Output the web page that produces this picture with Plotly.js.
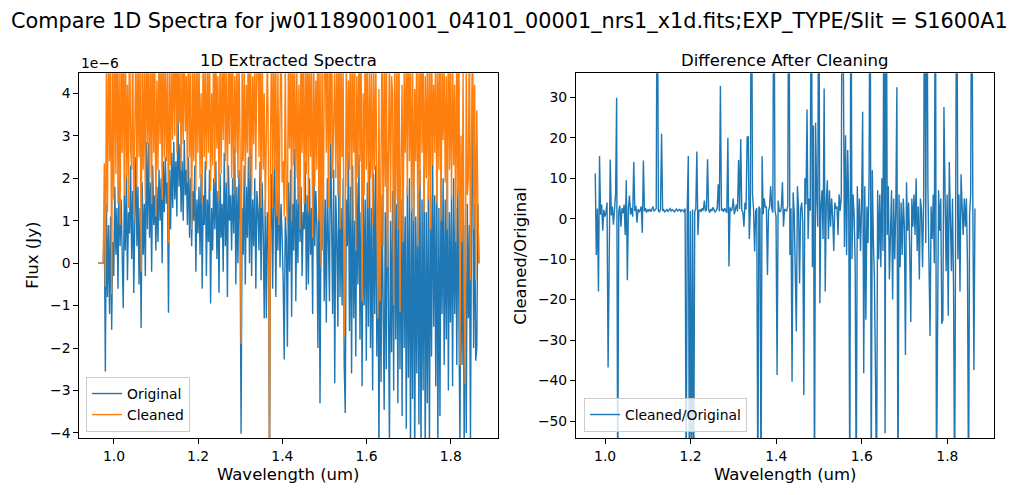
<!DOCTYPE html>
<html>
<head>
<meta charset="utf-8">
<script src="https://cdn.plot.ly/plotly-3.0.1.min.js"></script>
<style>html,body{margin:0;padding:0;background:#fff;}#chart{width:1019px;height:495px;}</style>
</head>
<body>
<div id="chart"></div>
<script>
// Wavelength grid (um)
const wavelength = [
0.962,0.9645,0.967,0.9695,0.972,0.9745,0.977,0.9795,
0.982,0.9845,0.987,0.9895,0.992,0.9945,0.997,0.9995,
1.002,1.0045,1.007,1.0095,1.012,1.0145,1.017,1.0195,
1.022,1.0245,1.027,1.0295,1.032,1.0345,1.037,1.0395,
1.042,1.0445,1.047,1.0495,1.052,1.0545,1.057,1.0595,
1.062,1.0645,1.067,1.0695,1.072,1.0745,1.077,1.0795,
1.082,1.0845,1.087,1.0895,1.092,1.0945,1.097,1.0995,
1.102,1.1045,1.107,1.1095,1.112,1.1145,1.117,1.1195,
1.122,1.1245,1.127,1.1295,1.132,1.1345,1.137,1.1395,
1.142,1.1445,1.147,1.1495,1.152,1.1545,1.157,1.1595,
1.162,1.1645,1.167,1.1695,1.172,1.1745,1.177,1.1795,
1.182,1.1845,1.187,1.1895,1.192,1.1945,1.197,1.1995,
1.202,1.2045,1.207,1.2095,1.212,1.2145,1.217,1.2195,
1.222,1.2245,1.227,1.2295,1.232,1.2345,1.237,1.2395,
1.242,1.2445,1.247,1.2495,1.252,1.2545,1.257,1.2595,
1.262,1.2645,1.267,1.2695,1.272,1.2745,1.277,1.2795,
1.282,1.2845,1.287,1.2895,1.292,1.2945,1.297,1.2995,
1.302,1.3045,1.307,1.3095,1.312,1.3145,1.317,1.3195,
1.322,1.3245,1.327,1.3295,1.332,1.3345,1.337,1.3395,
1.342,1.3445,1.347,1.3495,1.352,1.3545,1.357,1.3595,
1.362,1.3645,1.367,1.3695,1.372,1.3745,1.377,1.3795,
1.382,1.3845,1.387,1.3895,1.392,1.3945,1.397,1.3995,
1.402,1.4045,1.407,1.4095,1.412,1.4145,1.417,1.4195,
1.422,1.4245,1.427,1.4295,1.432,1.4345,1.437,1.4395,
1.442,1.4445,1.447,1.4495,1.452,1.4545,1.457,1.4595,
1.462,1.4645,1.467,1.4695,1.472,1.4745,1.477,1.4795,
1.482,1.4845,1.487,1.4895,1.492,1.4945,1.497,1.4995,
1.502,1.5045,1.507,1.5095,1.512,1.5145,1.517,1.5195,
1.522,1.5245,1.527,1.5295,1.532,1.5345,1.537,1.5395,
1.542,1.5445,1.547,1.5495,1.552,1.5545,1.557,1.5595,
1.562,1.5645,1.567,1.5695,1.572,1.5745,1.577,1.5795,
1.582,1.5845,1.587,1.5895,1.592,1.5945,1.597,1.5995,
1.602,1.6045,1.607,1.6095,1.612,1.6145,1.617,1.6195,
1.622,1.6245,1.627,1.6295,1.632,1.6345,1.637,1.6395,
1.642,1.6445,1.647,1.6495,1.652,1.6545,1.657,1.6595,
1.662,1.6645,1.667,1.6695,1.672,1.6745,1.677,1.6795,
1.682,1.6845,1.687,1.6895,1.692,1.6945,1.697,1.6995,
1.702,1.7045,1.707,1.7095,1.712,1.7145,1.717,1.7195,
1.722,1.7245,1.727,1.7295,1.732,1.7345,1.737,1.7395,
1.742,1.7445,1.747,1.7495,1.752,1.7545,1.757,1.7595,
1.762,1.7645,1.767,1.7695,1.772,1.7745,1.777,1.7795,
1.782,1.7845,1.787,1.7895,1.792,1.7945,1.797,1.7995,
1.802,1.8045,1.807,1.8095,1.812,1.8145,1.817,1.8195,
1.822,1.8245,1.827,1.8295,1.832,1.8345,1.837,1.8395,
1.842,1.8445,1.847,1.8495,1.852,1.8545,1.857,1.8595,
1.862,1.8645,1.867];

// Original flux, in units of 1e-6 Jy
const originalFlux = [
0,0,0,0,0,0,1.0,-2.55,
1.4,-0.8,0.9,-1.2,1.1,-1.57,0.5,-0.3,
1.8,0.2,1.3,-0.6,2.0,0.4,1.5,-0.2,
-1.06,1.6,0.3,2.1,-0.4,1.2,0.7,2.3,
0.1,1.7,-0.7,1.0,2.5,0.4,1.8,-0.5,
1.3,-1.53,1.9,0.2,1.4,-0.3,2.85,0.8,
2.83,0.6,1.9,-0.2,2.3,0.9,1.6,0.3,
1.8,0.5,2.2,1.0,2.0,0.0,2.4,1.2,
2.5,1.4,1.9,-1.17,2.2,0.8,2.6,1.3,
2.86,1.5,2.4,1.1,3.6,1.8,2.8,1.2,
2.4,1.0,2.9,1.6,2.2,0.9,2.5,0.6,
2.0,0.4,1.7,1.0,2.3,-0.2,1.5,0.7,
1.8,0.2,2.1,-0.6,1.6,0.9,2.4,-0.3,
1.5,0.5,2.2,-0.95,1.3,0.3,2.0,0.8,
2.4,0.1,1.7,-0.7,2.1,0.6,1.4,-0.2,
2.6,0.4,1.9,-0.8,2.3,1.0,1.6,0.3,
2.0,0.7,2.7,-0.5,1.8,0.0,2.2,0.9,
-4.02,1.3,0.2,2.3,-0.5,1.8,0.6,2.5,
0.0,2.7,-0.3,1.5,0.4,2.0,-0.6,1.7,
1.2,0.3,2.4,-0.4,1.9,0.8,-1.3,1.5,
-1.3,1.2,0.6,-5.0,0.8,2.1,-0.6,1.6,
2.4,-0.8,1.7,0.3,2.2,-0.1,1.4,0.6,
-0.4,-2.27,1.1,0.6,-1.97,1.9,-0.2,2.2,
-1.26,1.4,0.3,2.7,-0.9,1.5,0.0,2.1,
0.5,1.8,-0.3,1.2,0.8,2.4,-0.63,1.6,
-0.5,2.0,0.2,1.3,-1.2,2.6,0.4,1.7,
0.9,-2.0,2.2,-3.3,1.4,0.3,2.5,-0.9,
1.5,-1.4,2.0,0.5,-0.9,3.37,1.1,-1.2,
2.2,-2.83,1.6,0.6,-1.5,2.4,-0.8,1.3,
-1.0,2.0,-2.4,-3.53,1.5,0.4,2.6,-1.6,
1.8,-2.6,2.3,-1.3,1.0,-2.2,1.9,-0.5,
2.55,-1.8,1.2,-2.9,2.0,-1.0,1.5,-2.3,
1.9,-1.5,2.4,-2.0,1.3,-3.0,2.1,-1.2,
2.3,-2.2,1.4,-4.6,0.8,-2.8,1.6,-2.0,
-3.46,1.2,-2.5,2.6,-1.5,-4.3,1.0,-2.1,
1.7,-3.0,2.9,-1.8,1.4,-3.3,2.2,-2.5,
1.5,-3.6,2.4,-2.0,1.1,-3.9,1.8,-2.7,
2.0,-4.6,1.3,-3.2,3.0,-4.8,1.1,-2.6,
1.7,-3.8,2.2,-4.5,1.5,-3.0,2.3,-4.7,
1.2,-3.3,1.9,-4.5,1.6,-2.2,2.7,-1.5,
1.6,-2.9,2.2,-4.4,1.3,-3.6,2.0,-1.2,
2.0,-2.4,1.5,-1.8,2.4,-3.0,1.2,-1.4,
1.6,-2.9,2.0,-1.2,1.3,-2.4,1.8,-1.8,
-4.3,1.2,-2.4,1.8,-4.5,0.9,-4.0,1.4,
-1.3,0.9,-4.3,1.5,4.15,-2.0,1.4,-2.3,
-2.0,1.4,0];

// Cleaned flux, in units of 1e-6 Jy
const cleanedFlux = [
0,0,0,0,0,0,2.35,-0.55,
4.6,1.2,5.3,2.4,5.0,-0.73,4.8,1.5,
5.9,2.1,6.0,1.4,4.8,0.9,5.4,2.6,
5.4,1.6,5.5,2.0,4.2,1.3,6.0,2.7,
2.2,5.5,1.0,4.6,5.2,1.8,5.0,2.5,
5.0,-0.2,5.0,2.2,4.7,1.5,6.0,2.8,
4.6,2.0,5.5,1.4,5.5,2.6,4.8,1.1,
4.3,2.2,5.0,2.8,5.2,1.5,6.0,2.5,
4.6,2.4,4.8,0.47,5.0,2.3,4.6,2.9,
5.3,3.0,6.0,2.6,5.2,3.3,4.6,2.2,
5.0,2.8,5.5,3.1,4.4,1.9,6.0,2.5,
4.5,0.8,4.6,2.4,5.2,1.7,5.0,2.6,
4.9,2.0,4.0,1.4,5.5,2.5,4.6,2.2,
4.9,2.6,5.2,1.7,4.0,2.3,6.0,1.9,
5.3,2.7,4.4,1.5,5.0,2.1,4.8,2.9,
5.5,2.4,4.6,1.8,4.7,2.8,6.0,2.0,
5.1,1.6,4.4,2.6,5.0,2.0,4.9,2.9,
-1.9,4.6,2.4,4.7,1.8,4.2,2.6,6.0,
2.0,5.1,1.6,4.4,2.8,5.0,2.2,4.7,
6.0,2.5,5.3,1.3,5.5,2.2,4.0,1.1,
4.6,5.0,2.4,-5.0,3.0,5.3,1.3,5.5,
2.2,4.7,1.1,4.5,0.9,4.1,6.0,1.9,
2.4,1.1,4.8,1.5,0.9,5.0,2.7,5.0,
1.0,5.8,2.3,4.5,2.0,4.6,1.4,4.2,
0.8,5.5,2.6,5.1,1.4,4.7,2.1,6.0,
1.2,5.4,2.5,4.6,0.6,5.0,1.8,4.3,
2.2,6.0,1.0,4.9,-0.08,4.8,0.3,4.4,
5.2,2.6,5.5,1.3,5.0,2.8,6.0,2.0,
3.0,4.6,2.0,4.8,1.6,6.0,0.8,5.2,
2.5,4.6,-1.73,0.6,5.0,1.8,4.3,2.2,
6.0,1.0,4.9,2.6,4.8,0.3,4.4,2.0,
5.2,2.4,5.5,-0.9,4.0,1.6,6.0,2.2,
4.8,1.3,4.6,2.0,5.0,0.9,4.5,2.2,
4.9,1.0,-1.3,4.1,-0.9,2.4,5.5,0.4,
4.7,1.8,6.0,-0.1,2.6,5.0,1.2,4.4,
4.0,-1.0,5.0,1.5,4.9,0.8,6.0,-1.15,
2.3,4.2,0.5,4.5,2.6,5.0,1.6,6.0,
2.4,4.6,1.2,4.9,1.0,4.1,2.4,5.5,
0.4,4.7,1.8,6.0,2.6,5.0,1.2,4.4,
2.0,5.0,1.5,4.9,0.8,6.0,2.3,4.2,
2.6,5.4,1.4,4.6,2.2,5.5,1.0,4.8,
2.9,4.8,1.9,4.4,0.8,6.0,2.2,4.6,
1.5,5.0,2.3,4.2,0.5,5.4,1.6,6.0,
-2.4,3.0,0.5,4.5,-0.6,-2.85,5.0,1.6,
2.0,6.0,-0.4,3.0,6.0,0.8,4.2,-0.4,
3.6,1.4,0];

// Cleaned / Original ratio
const ratio = [
null,null,null,null,null,null,11.2,-9,
2.5,-18,15.5,1.0,3.5,-3,2.2,0.5,
1.5,4,-36.8,2.6,14.6,0.8,3.0,-1.5,
2.4,6,29.9,-70,1.8,3.2,-2,2.6,
1.4,3.5,-4,9.5,-15.2,2.5,5.7,1.0,
2.7,0.5,14,1.9,3.2,-1,2.4,1.6,
2.1,3.0,-3.5,14.4,1.8,2.6,1.5,2.3,
1.9,2.4,1.7,2.2,3.0,1.8,2.1,2.5,
80,2.0,1.6,2.4,21,1.9,2.2,1.7,
2.0,2.3,1.8,2.1,2.5,1.9,2.2,2.0,
1.7,2.1,2.4,1.9,2.0,2.3,1.8,2.2,
2.1,1.6,2.5,-70,2.2,15.5,-70,1.9,
-70,2.3,-70,1.8,2.4,16.6,-4,2.0,
2.2,1.7,2.6,2.0,4.5,1.8,2.3,14.7,
2.1,1.5,2.4,1.9,2.8,2.2,1.6,2.0,
2.5,8.5,1.8,32.8,2.0,2.3,1.7,2.6,
2.2,1.5,20,-11.8,2.8,1.9,2.4,5,
1.1,2.1,3.5,1.8,14.5,2.4,19.7,2.0,
1.6,-2,4,2.3,20.1,20.4,-5,2.2,
80,6,2.4,-8.1,1.9,2.6,-70,3.0,
2.4,-70,15.4,1.1,5,2.8,3,-13.9,
2.0,3,8,2.6,1.5,80,2.2,0.5,
-38.6,4.5,2.0,1.6,2.8,9,-2,2.4,
2.1,1.8,3.3,80,-9,2.6,-40.3,6.5,
1.5,-12,-27.9,8,3,-16,2.2,4,
-1,-43.6,10,3.5,27,-5,5,2,
80,-12,23,-70,23.7,6,-2,80,
-20.9,3,7,-5,32.2,-18,4,9.5,
-5,7,-2,5,0.5,-8,4,2.5,
3,-4,6,2,5.5,80,19.5,-7,
20.6,-9,17,3,-70,80,-10,6,
1,-11,-70,8,-5,5,-8,3,
26.4,-38.2,8,-25,3,-6,10,80,
-70,12,-5,-15,-38.5,-70,7,-10,
6,-12,10,-8,80,-53,80,-4,
8,-15,-6,7,-20,5,-10,3,
32.5,-70,6,-12,4,-9,5,-2,
-33.7,9,-3,4,-8,-25.5,5,-2,
6,-4,10,-8,3,-15,5,2,
-12,4,80,-6,80,8,-19,-29,
3,-5,6,-11,80,-70,-28.7,7,
-3,5,-26,-25,27.6,4,-13,6,
-24,14,3,-13,5,-18,-70,2,
80,-10,6,-18,11,3,-4,5,
-2,5,-11,-70,1,6,80,4,
-37.4,2.5,null];

const leftTicks = [-4,-3,-2,-1,0,1,2,3,4];
const rightTicks = [-50,-40,-30,-20,-10,0,10,20,30];
const xTicks = [1.0,1.2,1.4,1.6,1.8];

const FONT = 'DejaVu Sans, Liberation Sans, sans-serif';
const W = 1019, H = 495;
const px = v => v / W;
const py = v => (H - v) / H;

const traces = [
  {x: wavelength, y: originalFlux, type: 'scatter', mode: 'lines', name: 'Original',
   line: {color: '#1f77b4', width: 1.4}, xaxis: 'x', yaxis: 'y', legend: 'legend'},
  {x: wavelength, y: cleanedFlux, type: 'scatter', mode: 'lines', name: 'Cleaned',
   line: {color: '#ff7f0e', width: 1.4}, xaxis: 'x', yaxis: 'y', legend: 'legend'},
  {x: wavelength, y: ratio, type: 'scatter', mode: 'lines', name: 'Cleaned/Original',
   line: {color: '#1f77b4', width: 1.4}, xaxis: 'x2', yaxis: 'y2', legend: 'legend2',
   connectgaps: false}
];

const axisCommon = {
  showline: true, mirror: true, linecolor: '#000', linewidth: 1,
  ticks: 'outside', ticklen: 5, tickwidth: 1, tickcolor: '#000',
  showgrid: false, zeroline: false,
  tickfont: {family: FONT, size: 13.9, color: '#000'}
};

const layout = {
  width: W, height: H,
  margin: {l: 0, r: 0, t: 0, b: 0},
  paper_bgcolor: '#fff', plot_bgcolor: '#fff',
  font: {family: FONT, color: '#000'},
  showlegend: true,
  xaxis: Object.assign({}, axisCommon, {
    domain: [px(79.3), px(498)], range: [0.9176, 1.9124],
    tickvals: xTicks, ticktext: xTicks.map(v => v.toFixed(1)), anchor: 'y'}),
  yaxis: Object.assign({}, axisCommon, {
    domain: [py(438), py(73.3)], range: [-4.118, 4.471],
    tickvals: leftTicks, anchor: 'x'}),
  xaxis2: Object.assign({}, axisCommon, {
    domain: [px(576), px(994)], range: [0.932, 1.909],
    tickvals: xTicks, ticktext: xTicks.map(v => v.toFixed(1)), anchor: 'y2'}),
  yaxis2: Object.assign({}, axisCommon, {
    domain: [py(438), py(73.3)], range: [-54.2, 35.93],
    tickvals: rightTicks, anchor: 'x2'}),
  legend: {
    x: px(86), y: py(432), xanchor: 'left', yanchor: 'bottom',
    bgcolor: 'rgba(255,255,255,0.8)', bordercolor: '#cccccc', borderwidth: 1,
    font: {family: FONT, size: 13.9, color: '#000'}, itemwidth: 30, tracegroupgap: 0
  },
  legend2: {
    x: px(584), y: py(432), xanchor: 'left', yanchor: 'bottom',
    bgcolor: 'rgba(255,255,255,0.8)', bordercolor: '#cccccc', borderwidth: 1,
    font: {family: FONT, size: 13.9, color: '#000'}, itemwidth: 30
  },
  annotations: [
    {text: 'Compare 1D Spectra for jw01189001001_04101_00001_nrs1_x1d.fits;EXP_TYPE/Slit = S1600A1',
     x: 0.5, y: py(21), xref: 'paper', yref: 'paper', xanchor: 'center', yanchor: 'middle',
     showarrow: false, font: {family: FONT, size: 20.8, color: '#000'}},
    {text: '1D Extracted Spectra', x: px(288.7), y: py(60), xref: 'paper', yref: 'paper',
     xanchor: 'center', yanchor: 'middle', showarrow: false, font: {family: FONT, size: 16.5}},
    {text: 'Difference After Cleaning', x: px(785), y: py(60), xref: 'paper', yref: 'paper',
     xanchor: 'center', yanchor: 'middle', showarrow: false, font: {family: FONT, size: 16.5}},
    {text: 'Wavelength (um)', x: px(288.7), y: py(474), xref: 'paper', yref: 'paper',
     xanchor: 'center', yanchor: 'middle', showarrow: false, font: {family: FONT, size: 16.5}},
    {text: 'Wavelength (um)', x: px(785), y: py(474), xref: 'paper', yref: 'paper',
     xanchor: 'center', yanchor: 'middle', showarrow: false, font: {family: FONT, size: 16.5}},
    {text: 'Flux (Jy)', x: px(33), y: py(255.7), xref: 'paper', yref: 'paper', textangle: -90,
     xanchor: 'center', yanchor: 'middle', showarrow: false, font: {family: FONT, size: 16.5}},
    {text: 'Cleaned/Original', x: px(521), y: py(255.7), xref: 'paper', yref: 'paper', textangle: -90,
     xanchor: 'center', yanchor: 'middle', showarrow: false, font: {family: FONT, size: 16.5}},
    {text: '1e\u22126', x: px(79), y: py(63), xref: 'paper', yref: 'paper',
     xanchor: 'left', yanchor: 'middle', showarrow: false, font: {family: FONT, size: 13.9}}
  ]
};

Plotly.newPlot('chart', traces, layout, {staticPlot: true, displayModeBar: false});
</script>
</body>
</html>
